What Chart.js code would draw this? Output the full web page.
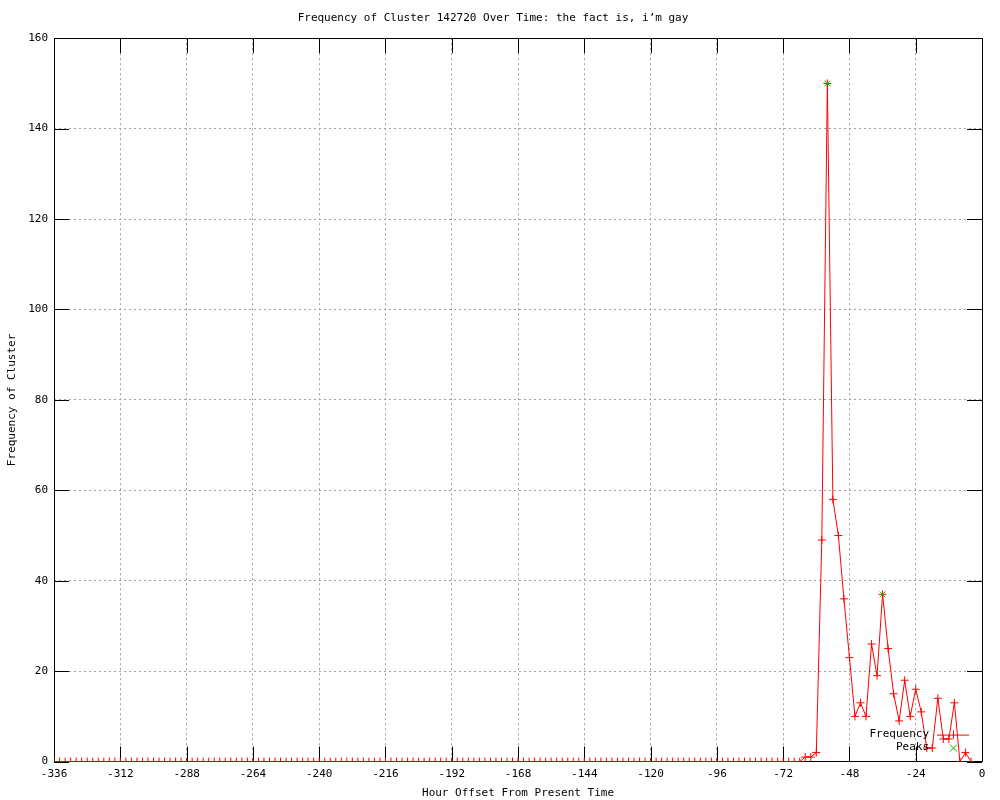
<!DOCTYPE html>
<html>
<head>
<meta charset="utf-8">
<script src="https://cdn.jsdelivr.net/npm/chart.js@4.4.0/dist/chart.umd.min.js"></script>
<style>
  body { margin: 0; background: #fff; }
  canvas { display: block; }
</style>
</head>
<body>
<canvas id="myChart" width="1000" height="800"></canvas>
<script>
// hour offsets, one sample every 2 hours
const hours = [];
for (let h = -336; h <= -4; h += 2) hours.push(h);

// frequency of the cluster at each offset
const frequency = [
    0, 0, 0, 0, 0, 0, 0, 0, 0, 0, 0, 0, 0, 0, 0, 0, 0, 0, 0, 0,
    0, 0, 0, 0, 0, 0, 0, 0, 0, 0, 0, 0, 0, 0, 0, 0, 0, 0, 0, 0,
    0, 0, 0, 0, 0, 0, 0, 0, 0, 0, 0, 0, 0, 0, 0, 0, 0, 0, 0, 0,
    0, 0, 0, 0, 0, 0, 0, 0, 0, 0, 0, 0, 0, 0, 0, 0, 0, 0, 0, 0,
    0, 0, 0, 0, 0, 0, 0, 0, 0, 0, 0, 0, 0, 0, 0, 0, 0, 0, 0, 0,
    0, 0, 0, 0, 0, 0, 0, 0, 0, 0, 0, 0, 0, 0, 0, 0, 0, 0, 0, 0,
    0, 0, 0, 0, 0, 0, 0, 0, 0, 0, 0, 0, 0, 0, 0, 0,
    1, 1, 2, 49, 150, 58, 50, 36, 23, 10, 13, 10, 26, 19, 37, 25,
    15, 9, 18, 10, 16, 11, 3, 3, 14, 5, 5, 13, 0, 2, 0
];

// detected peaks
const peakHours = [-56, -36];
const peakValues = [150, 37];

const xTicks = [-336, -312, -288, -264, -240, -216, -192, -168, -144, -120, -96, -72, -48, -24, 0];
const yTicks = [0, 20, 40, 60, 80, 100, 120, 140, 160];

const FONT = "'DejaVu Sans Mono', monospace";

const freqPoints = hours.map((h, i) => ({ x: h, y: frequency[i] }));
const peakPoints = peakHours.map((h, i) => ({ x: h, y: peakValues[i] }));

// gnuplot style frame: border, inward ticks, key in the corner
const frame = {
    id: 'frame',
    beforeDatasetsDraw(chart) {
        const ctx = chart.ctx;
        const a = chart.chartArea;
        const xs = chart.scales.x, ys = chart.scales.y;
        const len = 15;
        ctx.save();
        ctx.strokeStyle = '#000';
        ctx.lineWidth = 1;
        ctx.beginPath();
        xTicks.forEach(v => {
            const px = Math.round(xs.getPixelForValue(v)) + 0.5;
            ctx.moveTo(px, a.bottom); ctx.lineTo(px, a.bottom - len);
            ctx.moveTo(px, a.top); ctx.lineTo(px, a.top + len);
        });
        yTicks.forEach(v => {
            const py = Math.round(ys.getPixelForValue(v)) + 0.5;
            ctx.moveTo(a.left, py); ctx.lineTo(a.left + len, py);
            ctx.moveTo(a.right, py); ctx.lineTo(a.right - len, py);
        });
        ctx.stroke();
        ctx.strokeRect(Math.round(a.left) + 0.5, Math.round(a.top) + 0.5,
            Math.round(a.right - a.left), Math.round(a.bottom - a.top));
        ctx.restore();
    },
    afterDatasetsDraw(chart) {
        const ctx = chart.ctx;
        const a = chart.chartArea;
        const textX = a.right - 53;
        const sx = a.right - 29;
        const y1 = a.bottom - 27, y2 = a.bottom - 14;
        ctx.save();
        ctx.font = '11px ' + FONT;
        ctx.fillStyle = '#000';
        ctx.textAlign = 'right';
        ctx.textBaseline = 'middle';
        ctx.fillText('Frequency', textX, y1);
        ctx.fillText('Peaks', textX, y2);
        ctx.strokeStyle = '#ff0000';
        ctx.beginPath();
        ctx.moveTo(a.right - 45, y1 + 0.5); ctx.lineTo(a.right - 13, y1 + 0.5);
        ctx.moveTo(sx + 0.5, y1 - 4); ctx.lineTo(sx + 0.5, y1 + 4);
        ctx.stroke();
        ctx.strokeStyle = '#00c000';
        ctx.beginPath();
        ctx.moveTo(sx - 3, y2 - 3); ctx.lineTo(sx + 4, y2 + 4);
        ctx.moveTo(sx + 4, y2 - 3); ctx.lineTo(sx - 3, y2 + 4);
        ctx.stroke();
        ctx.restore();
    }
};

const config = {
    type: 'line',
    data: {
        datasets: [{
            label: 'Peaks',
            data: peakPoints,
            showLine: false,
            borderColor: '#00c000',
            backgroundColor: '#00c000',
            pointStyle: 'crossRot',
            pointRadius: 4,
            pointBorderWidth: 1,
            pointHoverRadius: 4
        }, {
            label: 'Frequency',
            data: freqPoints,
            borderColor: '#ff0000',
            backgroundColor: '#ff0000',
            borderWidth: 1,
            tension: 0,
            pointStyle: 'cross',
            pointRadius: 4,
            pointBorderWidth: 1,
            pointHoverRadius: 4
        }]
    },
    options: {
        responsive: false,
        animation: false,
        events: [],
        layout: { padding: { top: 0, right: 18, left: 4, bottom: 0 } },
        plugins: {
            legend: { display: false },
            tooltip: { enabled: false },
            title: {
                display: true,
                text: "Frequency of Cluster 142720 Over Time: the fact is, i\u2019m gay",
                color: '#000',
                font: { family: FONT, size: 11, weight: 'normal' },
                padding: { top: 12, bottom: 13 }
            }
        },
        scales: {
            x: {
                type: 'linear',
                min: -336,
                max: 0,
                afterBuildTicks(scale) { scale.ticks = xTicks.map(v => ({ value: v })); },
                ticks: {
                    color: '#000',
                    font: { family: FONT, size: 11 },
                    padding: 6,
                    maxRotation: 0,
                    autoSkip: false
                },
                grid: {
                    color: '#a0a0a0',
                    drawTicks: false
                },
                border: { display: false, dash: [2, 3] },
                title: {
                    display: true,
                    text: 'Hour Offset From Present Time',
                    color: '#000',
                    font: { family: FONT, size: 11 },
                    padding: { top: 0, bottom: 0 }
                }
            },
            y: {
                type: 'linear',
                min: 0,
                max: 160,
                afterBuildTicks(scale) { scale.ticks = yTicks.map(v => ({ value: v })); },
                ticks: {
                    color: '#000',
                    font: { family: FONT, size: 11 },
                    padding: 6
                },
                grid: {
                    color: '#a0a0a0',
                    drawTicks: false
                },
                border: { display: false, dash: [2, 3] },
                title: {
                    display: true,
                    text: 'Frequency of Cluster',
                    color: '#000',
                    font: { family: FONT, size: 11 },
                    padding: { top: 2, bottom: 3 }
                }
            }
        }
    },
    plugins: [frame]
};

const myChart = new Chart(document.getElementById('myChart'), config);
</script>
</body>
</html>
